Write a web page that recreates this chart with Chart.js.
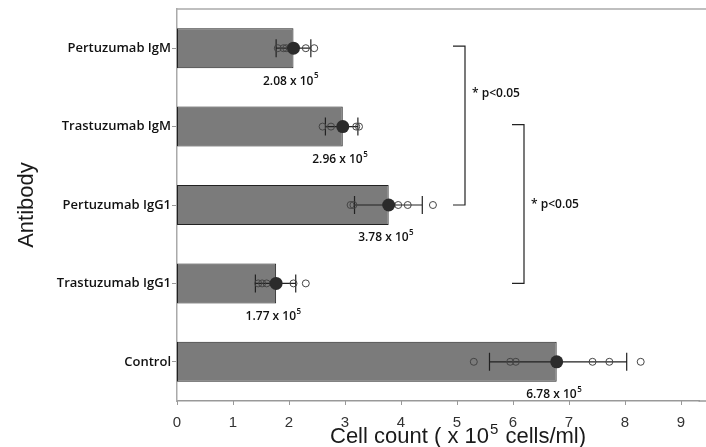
<!DOCTYPE html>
<html><head><meta charset="utf-8">
<script src="https://cdn.jsdelivr.net/npm/chart.js@4"></script>
<style>html,body{margin:0;padding:0;background:#fff;overflow:hidden}#wrap{width:706px;height:447px}</style>
</head><body><div id="wrap"><canvas id="c" width="706" height="447"></canvas></div>
<script>
// ---- data ----
const categories = ['Pertuzumab IgM', 'Trastuzumab IgM', 'Pertuzumab IgG1', 'Trastuzumab IgG1', 'Control'];
const means = [2.08, 2.96, 3.78, 1.77, 6.78];
const errLow = [1.77, 2.65, 3.17, 1.40, 5.58];
const errHigh = [2.39, 3.23, 4.38, 2.12, 8.03];
const repPertuzumabIgM = [1.80, 1.90, 1.95, 2.30, 2.45];
const repTrastuzumabIgM = [2.60, 2.75, 2.95, 3.20, 3.25];
const repPertuzumabIgG1 = [3.10, 3.15, 3.95, 4.12, 4.57];
const repTrastuzumabIgG1 = [1.45, 1.52, 1.60, 2.08, 2.30];
const repControl = [5.30, 5.95, 6.05, 7.42, 7.72, 8.28];
const replicates = [repPertuzumabIgM, repTrastuzumabIgM, repPertuzumabIgG1, repTrastuzumabIgG1, repControl];
const xTicks = [0, 1, 2, 3, 4, 5, 6, 7, 8, 9];
const comparisons = [[0, 2], [1, 3]];
const comparisonLabels = ['* p<0.05', '* p<0.05'];
const xTitleParts = ['Cell count ( x 10', '5', ' cells/ml)'];
const yTitle = 'Antibody';

// ---- build datasets ----
const repPoints = [];
replicates.forEach((arr, i) => arr.forEach(v => repPoints.push({x: v, y: categories[i]})));
const meanPoints = means.map((v, i) => ({x: v, y: categories[i]}));

const LABEL_FONT = '"Open Sans", sans-serif';
const AXIS_FONT = '"Liberation Sans", Arial, sans-serif';

const errorBarPlugin = {
  id: 'errorBars',
  afterDatasetDraw(chart, args) {
    if (args.index !== 0) return;
    const ctx = chart.ctx, xs = chart.scales.x, ys = chart.scales.y;
    ctx.save();
    ctx.strokeStyle = '#222';
    ctx.lineWidth = 1.2;
    categories.forEach((c, i) => {
      const y = ys.getPixelForValue(i);
      const x1 = xs.getPixelForValue(errLow[i]);
      const x2 = xs.getPixelForValue(errHigh[i]);
      ctx.beginPath();
      ctx.moveTo(x1, y); ctx.lineTo(x2, y);
      ctx.moveTo(x1, y - 9); ctx.lineTo(x1, y + 9);
      ctx.moveTo(x2, y - 9); ctx.lineTo(x2, y + 9);
      ctx.stroke();
    });
    ctx.restore();
  }
};

const annotatePlugin = {
  id: 'annotate',
  afterDraw(chart) {
    const ctx = chart.ctx, xs = chart.scales.x, ys = chart.scales.y, ca = chart.chartArea;
    ctx.save();
    // top frame line and bottom axis extension to the page edge
    ctx.lineWidth = 1.5;
    ctx.strokeStyle = '#aaa';
    ctx.beginPath();
    ctx.moveTo(ca.left, ca.top); ctx.lineTo(chart.width, ca.top);
    ctx.stroke();
    ctx.strokeStyle = '#999';
    ctx.beginPath();
    ctx.moveTo(ca.right - 1, ca.bottom); ctx.lineTo(chart.width, ca.bottom);
    ctx.stroke();
    // x tick marks
    ctx.lineWidth = 1;
    xTicks.forEach(v => {
      const px = Math.round(xs.getPixelForValue(v)) + 0.5;
      ctx.beginPath(); ctx.moveTo(px, ca.bottom); ctx.lineTo(px, ca.bottom + 4); ctx.stroke();
    });
    // x title with superscript
    ctx.fillStyle = '#1a1a1a';
    ctx.textBaseline = 'middle';
    ctx.textAlign = 'left';
    ctx.font = '22px ' + AXIS_FONT;
    let tx = 330;
    ctx.fillText(xTitleParts[0], tx, 437);
    tx += ctx.measureText(xTitleParts[0]).width + 1;
    ctx.font = '15px ' + AXIS_FONT;
    ctx.fillText(xTitleParts[1], tx, 430);
    tx += ctx.measureText(xTitleParts[1]).width + 1;
    ctx.font = '22px ' + AXIS_FONT;
    ctx.fillText(xTitleParts[2], tx, 437);
    // value labels
    ctx.fillStyle = '#111';
    means.forEach((m, i) => {
      const main = m.toFixed(2) + ' x 10';
      ctx.font = '600 12px ' + LABEL_FONT;
      const w1 = ctx.measureText(main).width;
      ctx.font = '600 8px ' + LABEL_FONT;
      const w2 = ctx.measureText('5').width;
      const cx = xs.getPixelForValue(m) - 3;
      const y = ys.getPixelForValue(i) + 33;
      const x0 = cx - (w1 + w2) / 2;
      ctx.font = '600 12px ' + LABEL_FONT;
      ctx.fillText(main, x0, y);
      ctx.font = '600 8px ' + LABEL_FONT;
      ctx.fillText('5', x0 + w1 + 0.5, y - 5);
    });
    // significance brackets
    const bracketX = [465, 524];
    const textPos = [0.58, 2.0];
    ctx.strokeStyle = '#222';
    ctx.lineWidth = 1.2;
    comparisons.forEach((pair, k) => {
      const yA = ys.getPixelForValue(pair[0]) - 2;
      const yB = ys.getPixelForValue(pair[1]);
      const bx = bracketX[k];
      ctx.beginPath();
      ctx.moveTo(bx - 12, yA); ctx.lineTo(bx, yA); ctx.lineTo(bx, yB); ctx.lineTo(bx - 12, yB);
      ctx.stroke();
      ctx.font = '600 12px ' + LABEL_FONT;
      ctx.fillText(comparisonLabels[k], bx + 7, ys.getPixelForValue(textPos[k]));
    });
    ctx.restore();
  }
};

new Chart(document.getElementById('c'), {
  type: 'bar',
  data: {
    labels: categories,
    datasets: [
      {
        type: 'bar',
        label: 'Mean',
        data: means,
        backgroundColor: '#7b7b7b',
        borderColor: '#222',
        borderWidth: 1,
        borderSkipped: false,
        barPercentage: 0.51,
        categoryPercentage: 1,
        order: 3
      },
      {
        type: 'scatter',
        label: 'Replicates',
        data: repPoints,
        pointRadius: 3.5,
        pointBorderWidth: 1,
        pointBorderColor: '#444',
        pointBackgroundColor: 'rgba(0,0,0,0)',
        showLine: false,
        order: 2
      },
      {
        type: 'scatter',
        label: 'Mean point',
        data: meanPoints,
        pointRadius: 6.5,
        pointBorderWidth: 0,
        pointBackgroundColor: '#2b2b2b',
        showLine: false,
        order: 1
      }
    ]
  },
  options: {
    indexAxis: 'y',
    responsive: false,
    animation: false,
    layout: {padding: {top: 9, left: 0, right: 0, bottom: 0}},
    plugins: {legend: {display: false}, tooltip: {enabled: false}},
    scales: {
      x: {
        type: 'linear',
        position: 'bottom',
        min: 0,
        max: 9.33,
        afterBuildTicks: s => { s.ticks = xTicks.map(v => ({value: v})); },
        afterFit: s => { s.height = 46; s.paddingLeft = 0; s.paddingRight = 0; },
        grid: {display: false},
        border: {display: true, color: '#999', width: 1.5},
        ticks: {font: {size: 15, family: AXIS_FONT}, color: '#333', padding: 5},
        title: {display: false}
      },
      y: {
        type: 'category',
        afterFit: s => { s.width = 177; },
        grid: {display: true, drawOnChartArea: false, drawTicks: true, tickLength: 5, color: '#999', offset: false},
        border: {display: true, color: '#aaa', width: 1.5},
        ticks: {font: {size: 13, family: LABEL_FONT, weight: '600'}, color: '#111', padding: 1},
        title: {display: true, text: yTitle, font: {size: 22, family: AXIS_FONT}, color: '#1a1a1a', padding: {top: 14, bottom: 0}}
      }
    }
  },
  plugins: [errorBarPlugin, annotatePlugin]
});
</script>
</body></html>
